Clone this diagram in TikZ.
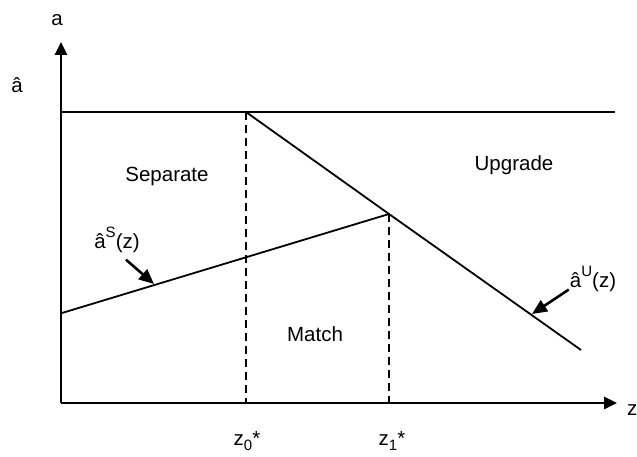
\documentclass[tikz,border=0pt]{standalone}
\usepackage{fontspec}
\setmainfont{Liberation Sans}
\usetikzlibrary{arrows.meta}
\newcommand\supr[1]{\raisebox{0.5em}{\fontsize{15}{16}\selectfont #1}}
\newcommand\subr[1]{\raisebox{-0.22em}{\fontsize{15}{16}\selectfont #1}}

\begin{document}
\begin{tikzpicture}[x=1pt,y=1pt,
    axis/.style={line width=2.8pt,-{Triangle[length=13pt,width=12pt]}},
    curve/.style={line width=1.8pt},
    guide/.style={line width=2.5pt,dash pattern=on 8pt off 5pt},
    pointer/.style={line width=2.6pt,-{Triangle[length=15pt,width=13pt]}},
    lab/.style={font=\fontsize{20.5}{24}\selectfont,inner sep=0pt}]
    \useasboundingbox (0,0) rectangle (637,456);

    % points
    \coordinate (o) at (61,53);
    \coordinate (ytop) at (61,414);
    \coordinate (xend) at (617,53);
    \coordinate (hatl) at (61,344);
    \coordinate (hatr) at (615,344);
    \coordinate (z0) at (246,344);
    \coordinate (z0b) at (246,53);
    \coordinate (z1) at (389,242);
    \coordinate (z1b) at (389,53);
    \coordinate (uend) at (581,106);
    \coordinate (sstart) at (62,143);
    \coordinate (stip) at (154,172);
    \coordinate (utip) at (532,142);

    % labels
    \node[lab] (alab) at (57,436) {a};
    \node[lab,anchor=west] (zlab) at (627,46) {z};
    \node[lab] (ahat) at (17,371) {â};
    \node[lab] (z0lab) at (247,15) {z\subr{0}*};
    \node[lab] (z1lab) at (392,15) {z\subr{1}*};
    \node[lab] (sep) at (167,280) {Separate};
    \node[lab] (upg) at (514,291) {Upgrade};
    \node[lab] (mat) at (315,122) {Match};
    \node[lab] (slab) at (117,216) {â\supr{S}(z)};
    \node[lab] (ulab) at (593,177) {â\supr{U}(z)};

    % axes
    \draw[axis] (o) -- (ytop);
    \draw[axis] (o) -- (xend);

    % regions
    \draw[curve] (hatl) -- (hatr);
    \draw[curve] (z0) -- (z1) -- (uend);
    \draw[curve] (sstart) -- (z1);
    \draw[guide] (z0) -- (z0b);
    \draw[guide] (z1) -- (z1b);

    % pointers
    \draw[pointer] (slab.south) ++(9,-7) -- (stip);
    \draw[pointer] (ulab.south west) ++(-1,2) -- (utip);
\end{tikzpicture}
\end{document}
